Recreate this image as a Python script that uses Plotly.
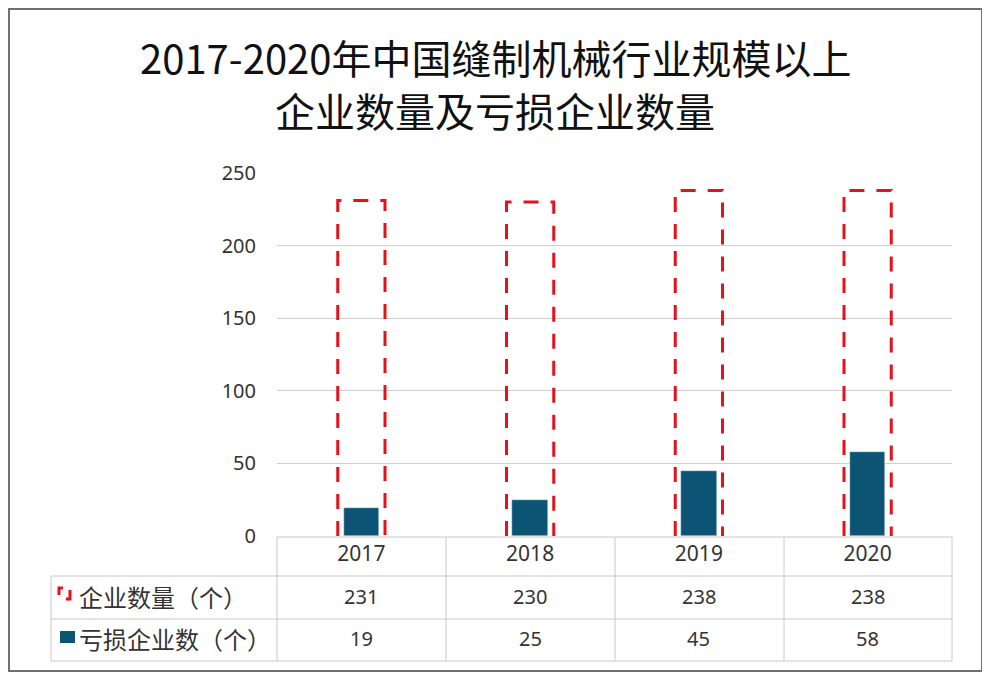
import plotly.graph_objects as go

# data
years = ["2017", "2018", "2019", "2020"]
enterprises = [231, 230, 238, 238]
loss_making = [19, 25, 45, 58]
row_labels = ["企业数量（个）", "亏损企业数（个）"]
title_lines = ["2017-2020年中国缝制机械行业规模以上", "企业数量及亏损企业数量"]

RED = "#e3121b"
TEAL = "#0b5473"
GRID = "#cfcfcf"
TXT = "#333333"

# the page body has an 8px margin, so the figure starts at (8, 8) in the window
OFF = 8
W, H = 990 - OFF, 678 - OFF
PLOT_L, PLOT_R, PLOT_T, PLOT_B = 277, 952, 173, 536  # plot area in window pixels


def px(x):
    return (x - PLOT_L) / (PLOT_R - PLOT_L)


def py(y):
    return (PLOT_B - y) / (PLOT_B - PLOT_T)


def ppath(pts):
    return "M " + " L ".join(f"{px(a)},{py(b)}" for a, b in pts)


xs = list(range(len(years)))
fig = go.Figure()

# dashed outline bars (three sides, open at the base)
half = 0.14
for i, v in zip(xs, enterprises):
    fig.add_trace(go.Scatter(x=[i - half, i - half, i + half, i + half], y=[0, v, v, 0],
                             mode="lines", line=dict(color=RED, width=3, dash="15px,12px"),
                             name=row_labels[0], showlegend=False, hoverinfo="x+name"))

fig.add_trace(go.Bar(x=xs, y=loss_making, width=0.21, marker_color=TEAL,
                     name=row_labels[1], showlegend=False))

shapes = []
line = dict(color="#c8c8c8", width=1)
# table grid
shapes.append(dict(type="line", xref="paper", yref="paper", x0=px(277), x1=px(952), y0=py(537), y1=py(537), line=line))
for yy in [576, 619, 661]:
    shapes.append(dict(type="line", xref="paper", yref="paper", x0=px(51), x1=px(952), y0=py(yy), y1=py(yy), line=line))
for xx in [277, 446, 615, 784, 952]:
    shapes.append(dict(type="line", xref="paper", yref="paper", x0=px(xx), x1=px(xx), y0=py(537), y1=py(661), line=line))
shapes.append(dict(type="line", xref="paper", yref="paper", x0=px(51), x1=px(51), y0=py(576), y1=py(661), line=line))

# legend keys
key = dict(color=RED, width=3)
shapes.append(dict(type="path", xref="paper", yref="paper", path=ppath([(59, 595), (59, 588), (63, 588)]), line=key))
shapes.append(dict(type="path", xref="paper", yref="paper", path=ppath([(66, 599), (70, 599), (70, 590)]), line=key))
shapes.append(dict(type="rect", xref="paper", yref="paper", x0=px(60), x1=px(75), y0=py(643), y1=py(631),
                   line=dict(width=0), fillcolor=TEAL))
# outer frame
shapes.append(dict(type="rect", xref="paper", yref="paper", x0=px(9), x1=px(982), y0=py(671), y1=py(9),
                   line=dict(color="#707070", width=2)))

annotations = []
font = dict(family="Noto Sans, Noto Sans CJK SC", size=20, color=TXT)
for i in xs:
    annotations.append(dict(x=i, y=py(596), xref="x", yref="paper", text=str(enterprises[i]),
                            xanchor="center", yanchor="middle", showarrow=False, font=font))
    annotations.append(dict(x=i, y=py(638), xref="x", yref="paper", text=str(loss_making[i]),
                            xanchor="center", yanchor="middle", showarrow=False, font=font))
for lbl, yy in zip(row_labels, [596, 638]):
    annotations.append(dict(x=px(77), y=py(yy), xref="paper", yref="paper", text=lbl,
                            xanchor="left", yanchor="middle", showarrow=False,
                            font=dict(family="Noto Sans CJK SC", size=24, color=TXT)))
for txt, yy in zip(title_lines, [57, 110]):
    annotations.append(dict(x=px(495), y=py(yy), xref="paper", yref="paper", text=txt, showarrow=False,
                            xanchor="center", yanchor="middle",
                            font=dict(family="Noto Sans CJK SC", size=40, color="#111111")))

fig.update_layout(
    width=W, height=H,
    margin=dict(l=PLOT_L - OFF, r=W - (PLOT_R - OFF), t=PLOT_T - OFF, b=H - (PLOT_B - OFF)),
    plot_bgcolor="white", paper_bgcolor="white",
    shapes=shapes, annotations=annotations,
    bargap=0, showlegend=False,
)
fig.update_xaxes(range=[-0.5, 3.5], tickvals=xs, ticktext=years, showgrid=False, zeroline=False,
                 showline=False, ticks="", tickfont=dict(family="Noto Sans", size=21, color=TXT),
                 ticklabelstandoff=3, fixedrange=True)
fig.update_yaxes(range=[0, 250], dtick=50, showgrid=True, gridcolor=GRID, gridwidth=1, zeroline=False,
                 showline=False, ticks="", tickfont=dict(family="Noto Sans", size=20, color=TXT),
                 ticklabelstandoff=20, fixedrange=True)

fig.write_html("out.html")
